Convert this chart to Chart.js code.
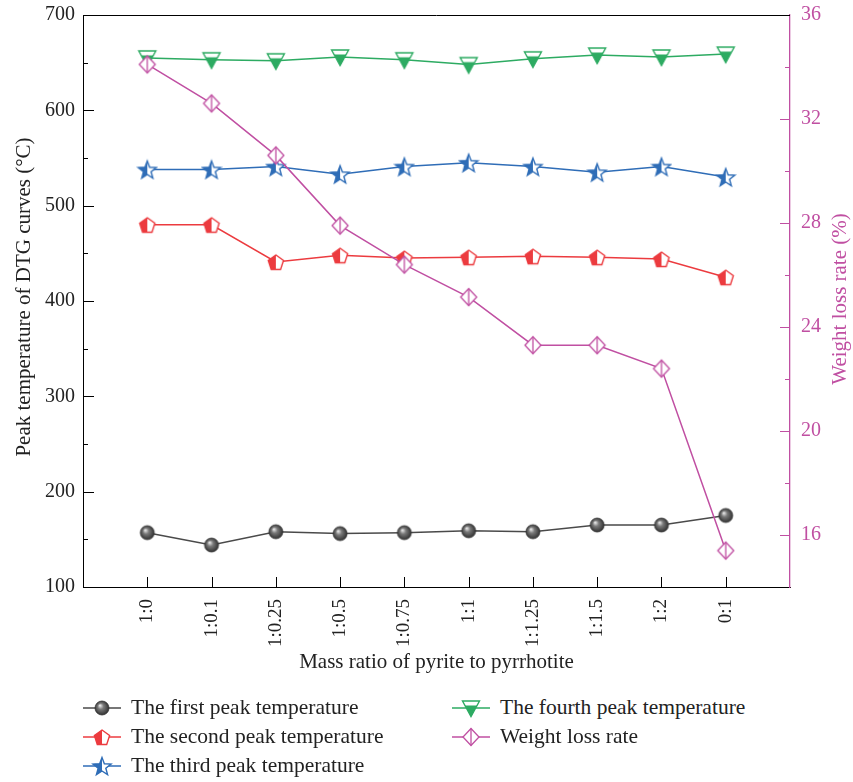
<!DOCTYPE html>
<html>
<head>
<meta charset="utf-8">
<script src="https://cdn.jsdelivr.net/npm/chart.js@4.4.1/dist/chart.umd.min.js"></script>
<style>
  body { margin: 0; background: #fff; font-family: "Liberation Serif", serif; }
  #wrap { position: relative; width: 853px; height: 680px; }
  #legend { position: absolute; left: 0; top: 690px; width: 853px; height: 92px; }
  .item { position: absolute; display: flex; align-items: center; font-size: 21.5px; color: #222; white-space: nowrap; }
  .item canvas { margin-right: 10px; }
</style>
</head>
<body>
<div id="wrap"><canvas id="dtgChart"></canvas></div>
<div id="legend"></div>
<script>
// categories and series
const ratios = ['1:0', '1:0.1', '1:0.25', '1:0.5', '1:0.75', '1:1', '1:1.25', '1:1.5', '1:2', '0:1'];
const firstPeak = [157, 144, 158, 156, 157, 159, 158, 165, 165, 175];
const secondPeak = [480, 480, 441, 448, 445, 446, 447, 446, 444, 425];
const thirdPeak = [538, 538, 541, 533, 541, 545, 541, 535, 541, 530];
const fourthPeak = [655, 653, 652, 656, 653, 648, 654, 658, 656, 659];
const weightLoss = [34.1, 32.6, 30.6, 27.9, 26.4, 25.15, 23.3, 23.3, 22.4, 15.4];
const leftTicks = [100, 200, 300, 400, 500, 600, 700];
const rightTicks = [16, 20, 24, 28, 32, 36];

const MAGENTA = '#c04fa2';
const RED = '#ec3b3f';
const BLUE = '#2f6db7';
const GREEN = '#2dab62';
const GREY = '#4a4a4a';
const FONT = '"Liberation Serif", "Times New Roman", serif';

function marker(draw) {
    const c = document.createElement('canvas');
    c.width = 22; c.height = 22;
    draw(c.getContext('2d'), 11, 11);
    return c;
}

function polygon(g, pts) {
    g.beginPath();
    pts.forEach((p, i) => i ? g.lineTo(p[0], p[1]) : g.moveTo(p[0], p[1]));
    g.closePath();
}

// fill shape white, then fill part of it (clip rect) with colour, then outline
function halfShape(g, pts, color, clip) {
    polygon(g, pts);
    g.fillStyle = '#fff';
    g.fill();
    g.save();
    g.beginPath();
    g.rect(clip[0], clip[1], clip[2], clip[3]);
    g.clip();
    polygon(g, pts);
    g.fillStyle = color;
    g.fill();
    g.restore();
    polygon(g, pts);
    g.strokeStyle = color;
    g.lineWidth = 1.4;
    g.stroke();
}

const sphere = marker((g, cx, cy) => {
    const grad = g.createRadialGradient(cx - 2, cy - 2.5, 0.5, cx, cy, 7.5);
    grad.addColorStop(0, '#e2e2e2');
    grad.addColorStop(0.35, '#7a7a7a');
    grad.addColorStop(1, '#2b2b2b');
    g.beginPath();
    g.arc(cx, cy, 7, 0, Math.PI * 2);
    g.fillStyle = grad;
    g.fill();
    g.strokeStyle = '#333';
    g.lineWidth = 0.8;
    g.stroke();
});

const pentagon = marker((g, cx, cy) => {
    const pts = [];
    for (let k = 0; k < 5; k++) {
        const a = -Math.PI / 2 + k * 2 * Math.PI / 5;
        pts.push([cx + 8 * Math.cos(a), cy + 1 + 8 * Math.sin(a)]);
    }
    halfShape(g, pts, RED, [0, 0, cx, 22]);
});

const star = marker((g, cx, cy) => {
    const pts = [];
    for (let k = 0; k < 10; k++) {
        const a = -Math.PI / 2 + k * Math.PI / 5;
        const r = k % 2 ? 4 : 9.5;
        pts.push([cx + r * Math.cos(a), cy + 1 + r * Math.sin(a)]);
    }
    halfShape(g, pts, BLUE, [0, 0, cx, 22]);
});

const triangle = marker((g, cx, cy) => {
    const pts = [[cx - 8.5, cy - 7], [cx + 8.5, cy - 7], [cx, cy + 8.5]];
    halfShape(g, pts, GREEN, [0, cy - 2.5, 22, 22]);
});

const diamond = marker((g, cx, cy) => {
    const pts = [[cx, cy - 8.5], [cx + 8, cy], [cx, cy + 8.5], [cx - 8, cy]];
    polygon(g, pts);
    g.fillStyle = '#fff';
    g.fill();
    g.strokeStyle = MAGENTA;
    g.lineWidth = 1.3;
    g.stroke();
    g.beginPath();
    g.moveTo(cx, cy - 8.5);
    g.lineTo(cx, cy + 8.5);
    g.stroke();
});

function series(label, values, color, style, axis, order) {
    return {
        label: label,
        data: values.map((v, i) => ({ x: i, y: v })),
        borderColor: color,
        borderWidth: 1.5,
        pointStyle: style,
        pointRadius: 9,
        yAxisID: axis,
        order: order
    };
}

const datasets = [
    series('The first peak temperature', firstPeak, GREY, sphere, 'y', 2),
    series('The second peak temperature', secondPeak, RED, pentagon, 'y', 2),
    series('The third peak temperature', thirdPeak, BLUE, star, 'y', 2),
    series('The fourth peak temperature', fourthPeak, GREEN, triangle, 'y', 2),
    series('Weight loss rate', weightLoss, MAGENTA, diamond, 'y1', 1)
];

function sideTitle(g, text, x, y, color) {
    g.save();
    g.font = '21px ' + FONT;
    g.textAlign = 'center';
    g.textBaseline = 'middle';
    g.fillStyle = color;
    g.translate(x, y);
    g.rotate(-Math.PI / 2);
    g.fillText(text, 0, 0);
    g.restore();
}

// inward ticks, minor ticks, top frame line and the two axis titles
const framePlugin = {
    id: 'frame',
    afterDraw(chart) {
        const g = chart.ctx;
        const area = chart.chartArea;
        const x = chart.scales.x, y = chart.scales.y, y1 = chart.scales.y1;
        g.save();
        g.lineWidth = 1;
        g.strokeStyle = '#000';
        g.beginPath();
        g.moveTo(area.left, area.top + 0.5);
        g.lineTo(area.right, area.top + 0.5);
        ratios.forEach((_, i) => {
            const px = Math.round(x.getPixelForValue(i)) + 0.5;
            g.moveTo(px, area.bottom);
            g.lineTo(px, area.bottom - 10);
        });
        for (let v = 150; v < 700; v += 50) {
            const py = Math.round(y.getPixelForValue(v)) + 0.5;
            g.moveTo(area.left, py);
            g.lineTo(area.left + (v % 100 ? 5 : 11), py);
        }
        g.stroke();
        g.strokeStyle = MAGENTA;
        g.beginPath();
        for (let v = 16; v < 36; v += 2) {
            const py = Math.round(y1.getPixelForValue(v)) + 0.5;
            g.moveTo(area.right, py);
            g.lineTo(area.right - (v % 4 ? 5 : 10), py);
        }
        g.stroke();
        g.restore();

        sideTitle(g, 'Peak temperature of DTG curves (°C)', 24, 297, '#222');
        sideTitle(g, 'Weight loss rate (%)', 840, 299, MAGENTA);
    }
};

// fixed axis sizes so the plot area sits where it does in the figure
function fitY(width) {
    return s => {
        s.width = width;
        s.paddingTop = 0;
        s.paddingBottom = 0;
    };
}

const ctx = document.getElementById('dtgChart').getContext('2d');
new Chart(ctx, {
    type: 'line',
    data: { datasets: datasets },
    options: {
        responsive: true,
        maintainAspectRatio: false,
        animation: false,
        layout: { padding: { top: 15, left: 0, right: 0, bottom: 0 } },
        plugins: { legend: { display: false }, tooltip: { enabled: false } },
        scales: {
            x: {
                type: 'linear',
                min: -1,
                max: 10,
                afterBuildTicks: s => { s.ticks = ratios.map((_, i) => ({ value: i })); },
                afterFit: s => { s.height = 93; s.paddingLeft = 0; s.paddingRight = 0; },
                grid: { drawOnChartArea: false, drawTicks: false },
                border: { color: '#000', width: 1 },
                ticks: {
                    autoSkip: false,
                    minRotation: 90,
                    maxRotation: 90,
                    padding: 12,
                    color: '#222',
                    font: { family: FONT, size: 19 },
                    callback: v => ratios[v]
                },
                title: {
                    display: true,
                    text: 'Mass ratio of pyrite to pyrrhotite',
                    color: '#222',
                    font: { family: FONT, size: 21 },
                    padding: { top: 0, bottom: 5 }
                }
            },
            y: {
                position: 'left',
                min: 100,
                max: 700,
                afterBuildTicks: s => { s.ticks = leftTicks.map(v => ({ value: v })); },
                afterFit: fitY(83),
                grid: { drawOnChartArea: false, drawTicks: false },
                border: { color: '#000', width: 1 },
                ticks: { padding: 8, color: '#222', font: { family: FONT, size: 20 } }
            },
            y1: {
                position: 'right',
                min: 14,
                max: 36,
                afterBuildTicks: s => { s.ticks = rightTicks.map(v => ({ value: v })); },
                afterFit: fitY(63),
                grid: { drawOnChartArea: false, drawTicks: false },
                border: { color: MAGENTA, width: 1.3 },
                ticks: { padding: 11, color: MAGENTA, font: { family: FONT, size: 20 } }
            }
        }
    },
    plugins: [framePlugin]
});

// HTML legend laid out in two columns like the figure
const legendPos = [[83, 18], [83, 47], [83, 76], [452, 18], [452, 47]];
const legendEl = document.getElementById('legend');
datasets.forEach((ds, i) => {
    const item = document.createElement('div');
    item.className = 'item';
    item.style.left = legendPos[i][0] + 'px';
    item.style.top = (legendPos[i][1] - 13) + 'px';
    const icon = document.createElement('canvas');
    icon.width = 38; icon.height = 24;
    const g = icon.getContext('2d');
    g.strokeStyle = ds.borderColor;
    g.lineWidth = 1.5;
    g.beginPath();
    g.moveTo(0, 12); g.lineTo(38, 12);
    g.stroke();
    g.drawImage(ds.pointStyle, 19 - 11, 12 - 11);
    item.appendChild(icon);
    item.appendChild(document.createTextNode(ds.label));
    legendEl.appendChild(item);
});
</script>
</body>
</html>
